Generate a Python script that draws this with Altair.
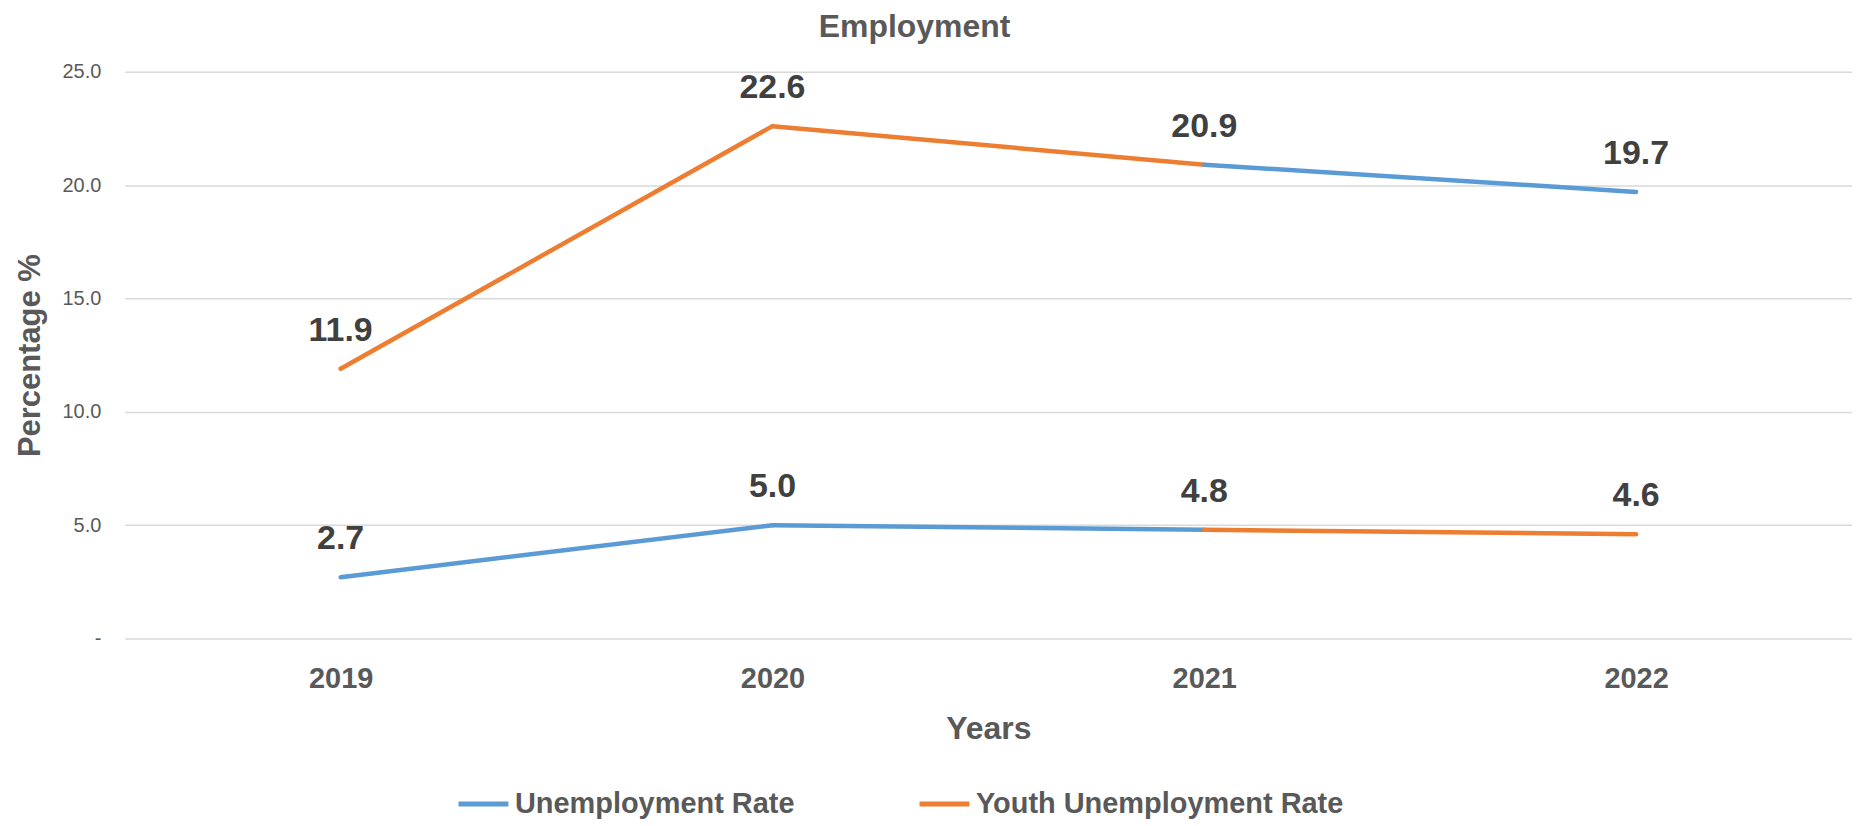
import altair as alt
import pandas as pd

FONT = "Liberation Sans"

years = ["2019", "2020", "2021", "2022"]
unemployment = [2.7, 5.0, 4.8, 4.6]
youth = [11.9, 22.6, 20.9, 19.7]
series_names = ["Unemployment Rate", "Youth Unemployment Rate"]
# legend series whose colour each segment (between consecutive years) carries in the reference
unemployment_seg = ["Unemployment Rate", "Unemployment Rate", "Youth Unemployment Rate"]
youth_seg = ["Youth Unemployment Rate", "Youth Unemployment Rate", "Unemployment Rate"]
colors = ["#5B9BD5", "#ED7D31"]

rows = []
for name, vals, segs in [(series_names[0], unemployment, unemployment_seg),
                         (series_names[1], youth, youth_seg)]:
    for k, seg in enumerate(segs):
        for j in (k, k + 1):
            rows.append({"Year": years[j], "Value": vals[j], "Series": seg,
                         "Segment": f"{name}-{k}", "order": j})
seg_df = pd.DataFrame(rows)
pts = pd.DataFrame({"Year": years * 2, "Value": unemployment + youth})

x_enc = alt.X(
    "Year:O",
    sort=years,
    scale=alt.Scale(type="point", padding=0.5),
    axis=alt.Axis(
        title="Years", labelAngle=0, labelFontSize=29, labelFontWeight="bold",
        labelColor="#595959", labelPadding=26, labelFont=FONT,
        ticks=False, domain=False, grid=False,
        titleFontSize=32, titleFontWeight="bold", titleColor="#595959", titleFont=FONT,
        titleY=90, titleBaseline="middle",
    ),
)
y_enc = alt.Y(
    "Value:Q",
    scale=alt.Scale(domain=[0, 25], nice=False),
    axis=alt.Axis(
        title="Percentage %", values=[0, 5, 10, 15, 20, 25],
        labelExpr="datum.value == 0 ? '-' : format(datum.value, '.1f')",
        labelFontSize=20, labelColor="#595959", labelFont=FONT, labelPadding=24,
        ticks=False, domain=False, gridColor="#D9D9D9", gridWidth=1.5,
        titleFontSize=31, titleFontWeight="bold", titleColor="#595959", titleFont=FONT,
        titleAngle=-90, titleX=-94, titleY=284, titleAlign="center", titleBaseline="middle",
    ),
)

lines = alt.Chart(seg_df).mark_line(strokeWidth=4.5, strokeCap="round").encode(
    x=x_enc,
    y=y_enc,
    color=alt.Color(
        "Series:N",
        scale=alt.Scale(domain=series_names, range=colors),
        legend=alt.Legend(
            title=None, orient="none", direction="horizontal", legendX=332, legendY=706,
            symbolType="stroke", symbolSize=2500, symbolStrokeWidth=5,
            labelFontSize=29, labelFontWeight="bold", labelColor="#595959", labelFont=FONT,
            labelOffset=4, labelLimit=800, columnPadding=114, padding=0,
        ),
    ),
    detail="Segment:N",
    order="order:Q",
)

labels = alt.Chart(pts).mark_text(
    dy=-38, fontSize=34, fontWeight="bold", color="#404040", font=FONT, baseline="middle"
).encode(
    x=alt.X("Year:O", sort=years),
    y="Value:Q",
    text=alt.Text("Value:Q", format=".1f"),
)

chart = alt.layer(lines, labels).properties(
    width=1731,
    height=568,
    autosize=alt.AutoSizeParams(type="none"),
    padding={"left": 117, "top": 63, "right": 0, "bottom": 184},
    title=alt.TitleParams(
        "Employment", fontSize=32, fontWeight="bold", color="#595959", font=FONT,
        anchor="middle", dx=-74, offset=18,
    ),
).configure_view(stroke=None)

chart.save("out.html", embed_options={"renderer": "svg", "actions": False})
